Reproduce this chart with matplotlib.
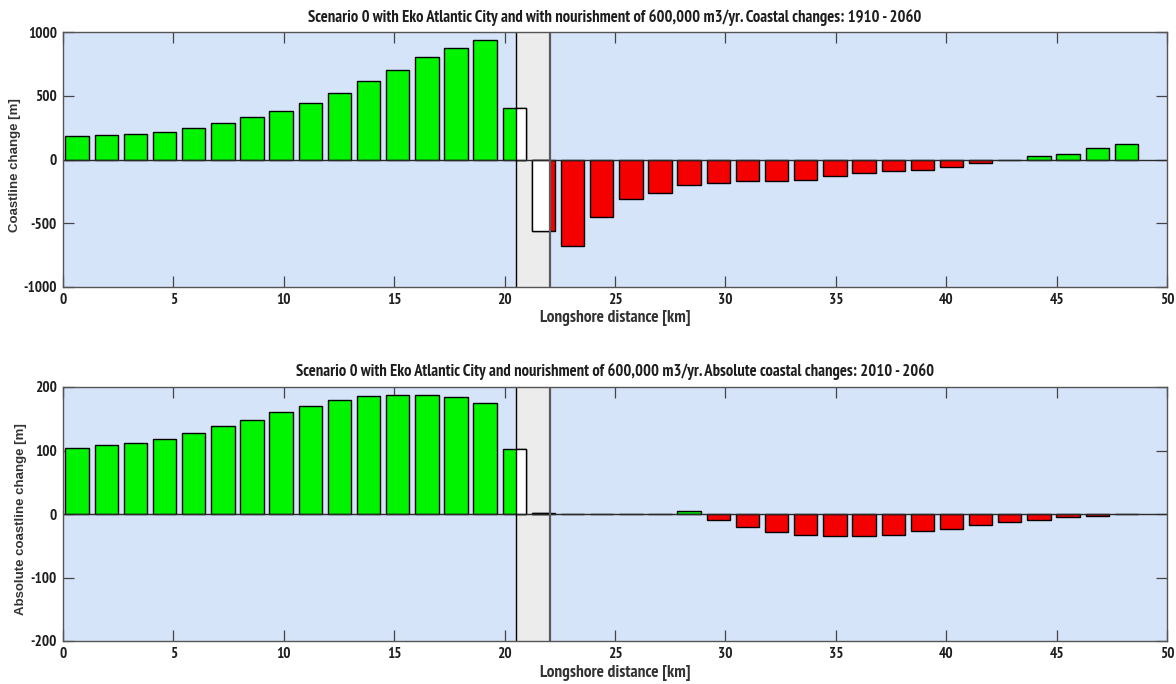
import numpy as np
import matplotlib
matplotlib.use("Agg")
import matplotlib.pyplot as plt
from matplotlib import font_manager as fm
from matplotlib.patches import Rectangle

# Coastline change per coastal cell (m), cells ordered along the shore
total_change = [184, 192, 202, 213, 244, 283, 333, 383, 444, 522, 614, 703, 803,
                874, 934, 404, -562, -675, -451, -312, -260, -199, -181, -171,
                -171, -160, -129, -108, -89, -79, -60, -29, 0, 24, 42, 92, 123]
absolute_change = [104, 108, 112, 118, 128, 138, 148, 160, 170, 180, 186, 188,
                   188, 184, 175, 102, 2, 0, 0, 0, 0, 4, -9, -21, -29, -33, -35,
                   -35, -33, -27, -23, -17, -13, -9, -5, -2.5, 0]

# Eko Atlantic City reclamation zone along the shore (km)
eko_zone = [20.5, 22.05]

titles = [
    "Scenario 0 with Eko Atlantic City and with nourishment of 600,000 m3/yr. "
    "Coastal changes: 1910 - 2060",
    "Scenario 0 with Eko Atlantic City and nourishment of 600,000 m3/yr. "
    "Absolute coastal changes: 2010 - 2060",
]
ylabels = ["Coastline change [m]", "Absolute coastline change [m]"]
xlabel = "Longshore distance [km]"
xticks = [0, 5, 10, 15, 20, 25, 30, 35, 40, 45, 50]
yticks_top = [-1000, -500, 0, 500, 1000]
yticks_bottom = [-200, -100, 0, 100, 200]

# Cell geometry along the shore
cell_start = 0.64
cell_step = 1.32
bar_width = 1.06

AX_BG = "#d6e4f9"
ZONE_BG = "#ececec"
GREEN = "#00f400"
RED = "#f40000"
TEXT_C = "#1e1e1e"


def pick_narrow_bold():
    """First condensed family that ships a static bold face."""
    candidates = ["Liberation Sans Narrow", "Arial Narrow", "PT Sans Narrow",
                  "Archivo Narrow", "Roboto Condensed", "Fira Sans Condensed",
                  "IBM Plex Sans Condensed", "Barlow Semi Condensed",
                  "Encode Sans Condensed", "Open Sans Condensed",
                  "Sofia Sans Condensed", "Saira SemiCondensed"]
    bold = {f.name for f in fm.fontManager.ttflist
            if f.weight in (700, "bold") and "[" not in f.fname}
    for name in candidates:
        if name in bold:
            return name
    return "DejaVu Sans"


NARROW = [pick_narrow_bold(), "DejaVu Sans"]
WIDE = ["Liberation Sans", "DejaVu Sans"]

fig = plt.figure(figsize=(11.76, 6.84), dpi=100)
fig.patch.set_facecolor("white")
W, H = 1176, 684
ax_top = fig.add_axes([63 / W, 1 - 287 / H, 1104 / W, 255 / H])
ax_bot = fig.add_axes([63 / W, 1 - 641 / H, 1104 / W, 254 / H])


def draw_panel(ax, values, title, ylabel, yticks, title_pad, xlab_y, ylab_x):
    values = np.asarray(values, dtype=float)
    x = cell_start + cell_step * np.arange(len(values))
    colors = [GREEN if v >= 0 else RED for v in values]

    ax.set_facecolor(AX_BG)
    ax.axvspan(eko_zone[0], eko_zone[1], color=ZONE_BG, zorder=0.5, lw=0)

    ax.bar(x, values, width=bar_width, color=colors, edgecolor="black",
           linewidth=1.0, zorder=2)

    # cells inside the reclamation zone are shown unfilled
    clip = Rectangle((eko_zone[0], yticks[0]), eko_zone[1] - eko_zone[0],
                     yticks[-1] - yticks[0], transform=ax.transData)
    white = ax.bar(x, values, width=bar_width, color="white",
                   edgecolor="black", linewidth=1.0, zorder=2.5)
    for p in white.patches:
        p.set_clip_path(clip)

    ax.axhline(0, color="#2a2a2a", lw=1.0, zorder=3)
    ax.axvline(eko_zone[0], color="black", lw=1.0, zorder=3.5)
    ax.axvline(eko_zone[1], color="#5a5a5a", lw=1.6, zorder=3.5)

    ax.set_xlim(0, 50)
    ax.set_ylim(yticks[0], yticks[-1])
    ax.set_xticks(xticks)
    ax.set_yticks(yticks)
    ax.set_xticklabels([str(t) for t in xticks], family=NARROW,
                       weight="bold", size=11, color=TEXT_C)
    ax.set_yticklabels([str(t) for t in yticks], family=NARROW,
                       weight="bold", size=11, color=TEXT_C)
    ax.tick_params(direction="in", length=8, width=0.9, colors="#444444",
                   top=True, right=True)
    ax.tick_params(axis="x", pad=4.5)
    ax.tick_params(axis="y", pad=4.3)
    for lab in ax.get_xticklabels() + ax.get_yticklabels():
        lab.set_color(TEXT_C)
    for s in ax.spines.values():
        s.set_color("#555555")
        s.set_linewidth(1.0)
        s.set_zorder(4)

    ax.set_title(title, family=NARROW, weight="bold", size=12,
                 color=TEXT_C, pad=title_pad)
    ax.set_xlabel(xlabel, family=NARROW, weight="bold", size=12.5,
                  color="#333333")
    ax.xaxis.set_label_coords(0.5, xlab_y)
    ax.set_ylabel(ylabel, family=WIDE, weight="bold", size=9.5,
                  color="#333333")
    ax.yaxis.set_label_coords(ylab_x, 0.48)


draw_panel(ax_top, total_change, titles[0], ylabels[0], yticks_top,
           7.4, -0.09, -0.038)
draw_panel(ax_bot, absolute_change, titles[1], ylabels[1], yticks_bottom,
           7.8, -0.095, -0.033)

fig.savefig("out.png", dpi=100, facecolor="white")
